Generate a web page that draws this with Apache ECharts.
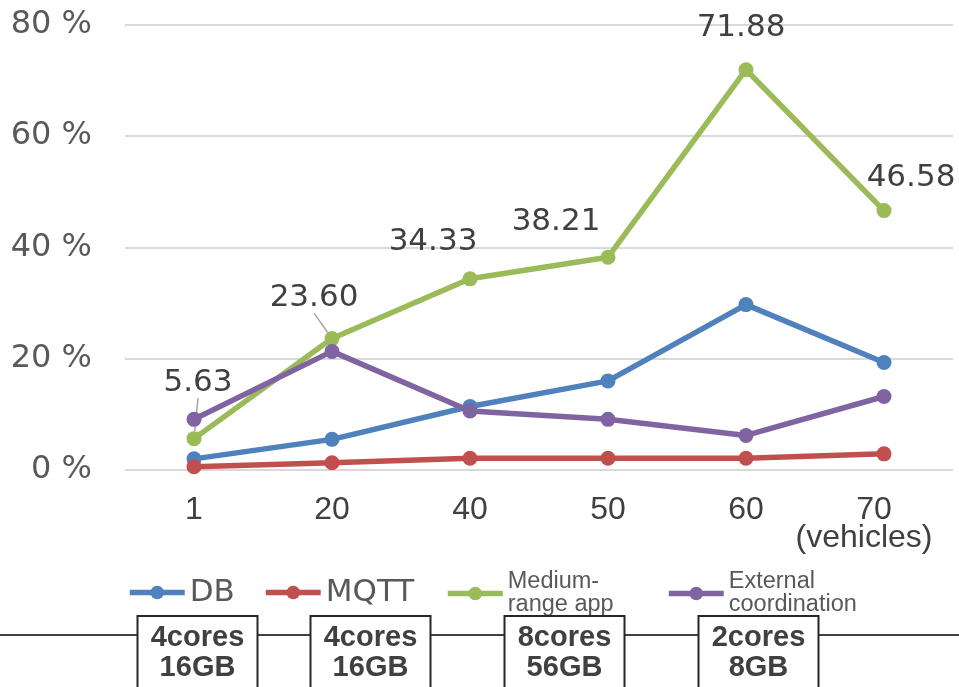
<!DOCTYPE html>
<html>
<head>
<meta charset="utf-8">
<script src="https://cdn.jsdelivr.net/npm/echarts@6/dist/echarts.min.js"></script>
<style>
html,body{margin:0;padding:0;background:#fff;}
#chart{width:959px;height:687px;}
</style>
</head>
<body>
<div id="chart"></div>
<script>
// ---- data ----
const categories = ['1', '20', '40', '50', '60', '70'];
const axisUnit = '(vehicles)';
const seriesNames = ['DB', 'MQTT', 'Medium-\nrange app', 'External\ncoordination'];
const dbValues = [2.0, 5.5, 11.4, 16.0, 29.7, 19.3];
const mqttValues = [0.6, 1.3, 2.1, 2.1, 2.1, 2.9];
const mediumValues = [5.63, 23.60, 34.33, 38.21, 71.88, 46.58];
const externalValues = [9.1, 21.3, 10.6, 9.1, 6.2, 13.2];
const yMin = 0, yMax = 80, yStep = 20;
const serverSpecs = ['4cores\n16GB', '4cores\n16GB', '8cores\n56GB', '2cores\n8GB'];

// ---- styles / layout ----
const colors = ['#4F81BD', '#C0504D', '#9BBB59', '#8064A2'];
const labelShift = [[4, -56], [-18, -41], [-37, -37], [-52, -35], [-5, -42], [27, -33]];
const labelLeader = [true, true, false, false, false, false];
const legendLeft = [127, 263, 445, 666];
const boxCenters = [197.5, 370.5, 564.5, 758.5];

const chart = echarts.init(document.getElementById('chart'), null, {renderer: 'canvas'});

function mkSeries(name, values, color, withLabels) {
  const s = {
    name: name,
    type: 'line',
    data: values.map((v, i) => {
      const d = {value: v};
      if (withLabels && labelLeader[i]) {
        d.labelLine = {show: true, lineStyle: {color: '#a6a6a6', width: 1.5}};
      }
      return d;
    }),
    symbol: 'circle',
    symbolSize: 15,
    lineStyle: {width: 5.5, color: color},
    itemStyle: {color: color},
    emphasis: {disabled: true},
    animation: false,
    z: 2
  };
  if (withLabels) {
    s.label = {
      show: true,
      position: 'inside',
      formatter: p => p.value.toFixed(2),
      fontFamily: 'DejaVu Sans',
      fontSize: 31,
      color: '#404040'
    };
    s.labelLayout = p => ({dx: labelShift[p.dataIndex][0], dy: labelShift[p.dataIndex][1]});
    s.labelLine = {show: false};
  }
  return s;
}

const legends = seriesNames.map((n, i) => {
  const big = i < 2;
  return {
    data: [n],
    left: legendLeft[i],
    top: big ? 577 : 570,
    orient: 'horizontal',
    padding: 0,
    itemWidth: 55,
    itemHeight: 17,
    itemGap: 5,
    lineStyle: {width: 5.5},
    textStyle: big
      ? {fontFamily: 'DejaVu Sans', fontSize: 31, color: '#595959'}
      : {fontFamily: 'Liberation Sans', fontSize: 23.5, lineHeight: 23, color: '#595959'}
  };
});

const graphics = [
  {type: 'line', shape: {x1: 0, y1: 635, x2: 959, y2: 635}, style: {stroke: '#404040', lineWidth: 2}, z: 10}
];
serverSpecs.forEach((t, i) => {
  graphics.push({
    type: 'rect',
    shape: {x: boxCenters[i] - 60, y: 616, width: 120, height: 90},
    style: {fill: '#fff', stroke: '#262626', lineWidth: 2},
    z: 11
  });
  graphics.push({
    type: 'text',
    x: boxCenters[i],
    y: 653,
    style: {
      text: t, fontFamily: 'Liberation Sans', fontWeight: 'bold', fontSize: 29, lineHeight: 30,
      fill: '#404040', align: 'center', verticalAlign: 'middle'
    },
    z: 12
  });
});

chart.setOption({
  backgroundColor: '#fff',
  animation: false,
  color: colors,
  grid: {left: 125, right: 6, top: 24.5, bottom: 217, containLabel: false, outerBoundsMode: 'none'},
  xAxis: {
    type: 'category',
    data: categories,
    boundaryGap: true,
    axisLine: {show: false},
    axisTick: {show: false},
    axisLabel: {
      interval: 0,
      margin: 26,
      fontFamily: 'Liberation Sans',
      fontSize: 32,
      lineHeight: 28,
      color: '#404040',
      formatter: (v, idx) => idx === categories.length - 1
        ? '{n|' + v + '}\n{u|' + axisUnit + '}'
        : v,
      rich: {
        n: {fontFamily: 'Liberation Sans', fontSize: 32, lineHeight: 28, color: '#404040', padding: [0, 20, 0, 0]},
        u: {fontFamily: 'Liberation Sans', fontSize: 32, lineHeight: 28, color: '#404040', padding: [0, 40, 0, 0]}
      }
    },
    splitLine: {show: false}
  },
  yAxis: {
    type: 'value',
    min: yMin, max: yMax, interval: yStep,
    axisLine: {show: false},
    axisTick: {show: false},
    axisLabel: {
      margin: 33,
      fontFamily: 'DejaVu Sans',
      fontSize: 32,
      color: '#595959',
      formatter: '{value} %'
    },
    splitLine: {lineStyle: {color: '#d9d9d9', width: 2}}
  },
  legend: legends,
  series: [
    mkSeries(seriesNames[0], dbValues, colors[0], false),
    mkSeries(seriesNames[1], mqttValues, colors[1], false),
    mkSeries(seriesNames[2], mediumValues, colors[2], true),
    mkSeries(seriesNames[3], externalValues, colors[3], false)
  ],
  graphic: graphics
});
</script>
</body>
</html>
